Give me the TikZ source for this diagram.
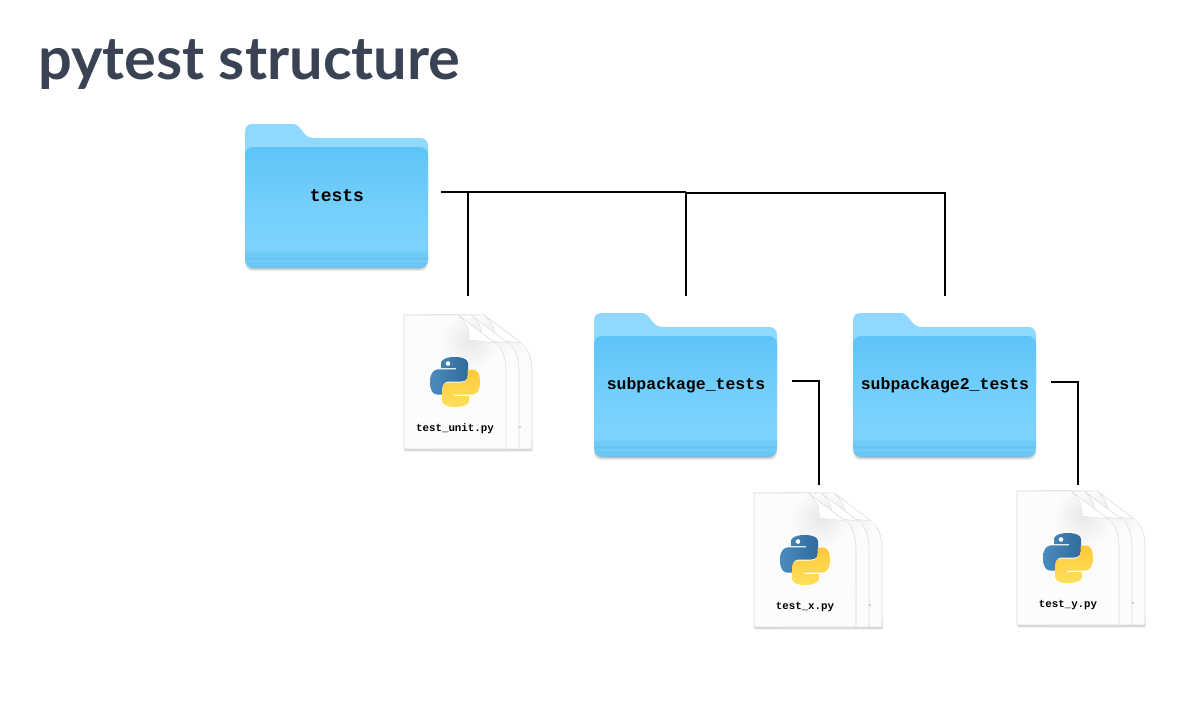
\documentclass[tikz,border=0pt]{standalone}
\usepackage{fontspec}
\usepackage{xcolor}
\usepackage{tikz}
\usetikzlibrary{positioning}
\setmainfont{Lato}
\newfontfamily\codefont{Liberation Mono}
\definecolor{titleink}{HTML}{3A4354}
\definecolor{folderback}{HTML}{8FD8FF}
\definecolor{pageedge}{HTML}{DCDCDC}
\definecolor{pagefold}{HTML}{E9E9E9}
\definecolor{pageface}{HTML}{FCFCFC}
\definecolor{pyblueA}{HTML}{4A8CC0}
\definecolor{pyblueB}{HTML}{2F6A9B}
\definecolor{pyyellowA}{HTML}{FFE05C}
\definecolor{pyyellowB}{HTML}{FFC83A}
\pgfdeclareverticalshading{folderfront}{100bp}{
    color(0bp)=(rgb,255:red,100;green,194;blue,240);
    color(25bp)=(rgb,255:red,100;green,194;blue,240);
    color(26.6bp)=(rgb,255:red,110;green,201;blue,245);
    color(27.0bp)=(rgb,255:red,99;green,192;blue,238);
    color(27.4bp)=(rgb,255:red,112;green,203;blue,246);
    color(28.6bp)=(rgb,255:red,112;green,203;blue,246);
    color(29.1bp)=(rgb,255:red,99;green,192;blue,238);
    color(29.6bp)=(rgb,255:red,111;green,202;blue,246);
    color(31.2bp)=(rgb,255:red,111;green,202;blue,246);
    color(33bp)=(rgb,255:red,125;green,211;blue,254);
    color(50bp)=(rgb,255:red,116;green,207;blue,252);
    color(75bp)=(rgb,255:red,94;green,196;blue,247);
    color(100bp)=(rgb,255:red,94;green,196;blue,247)}

\begin{document}
\begin{tikzpicture}[
        x=1pt, y=-1pt,
        titletext/.style={font=\fontsize{59.5}{62}\selectfont\bfseries, text=titleink, anchor=base west, inner sep=0pt},
        foldertext/.style={font=\codefont\bfseries\fontsize{16.5}{18}\selectfont, inner sep=0pt},
        filetext/.style={font=\codefont\bfseries\fontsize{10.8}{12}\selectfont, inner sep=0pt},
        branch/.style={draw=black, line width=2pt},
        softshadow/.style={fill=black, opacity=0.07, rounded corners=7pt},
        folder/.pic={
            \foreach \s in {0,0.8,1.6,2.4}
                \path[softshadow] (\s,30) rectangle (183-\s,147-\s);
            \fill[folderback] (0,70) -- (0,8) .. controls (0,2) and (3,0) .. (8,0) -- (48,0)
                .. controls (56,0) and (58,14) .. (68,14) -- (175,14)
                .. controls (180,14) and (183,17) .. (183,22) -- (183,70) -- cycle;
            \path[shading=folderfront, rounded corners=8pt] (0,23) rectangle (183,144);
        },
        pypage/.pic={
            \path[fill=pageface, draw=pageedge, line width=0.6pt] (0,0) -- (54,0) -- (91,28)
                .. controls (98,33) and (102,43) .. (102,55) -- (102,134) -- (0,134) -- cycle;
            \begin{scope}
                \clip (0,0) -- (54,0) -- (91,28) .. controls (98,33) and (102,43) .. (102,55)
                    -- (102,134) -- (0,134) -- cycle;
                \path[inner color=pagefold, outer color=pageface] (66,26) circle (30);
            \end{scope}
            \path[fill=white, draw=pageedge, line width=0.4pt] (54,0) .. controls (62,7) and (66,14) .. (65,25)
                .. controls (74,26) and (84,27) .. (91,28) -- cycle;
        },
        pysnake/.pic={
            \fill[white] (18,6.5) circle (2.3);
        },
        pystack/.pic={
            \foreach \s in {0,0.7,1.4}
                \path[softshadow, rounded corners=1pt] (\s,126) rectangle (129-\s,136.5-\s);
            \pic at (26,0) {pypage};
            \pic at (13,0) {pypage};
            \fill[black!70] (116,112) circle (0.6);
            \pic at (0,0) {pypage};
            \begin{scope}[shift={(26,42)}]
                \path[left color=pyblueA, right color=pyblueB] (25,0) .. controls (12,0) and (11,5.5) .. (11,5.5)
                    -- (11,11) -- (26,11) -- (26,12.4) -- (8,12.4)
                    .. controls (8,12.4) and (0,12) .. (0,25) .. controls (0,38) and (7,37.5) .. (7,37.5)
                    -- (12.5,37.5) -- (12.5,31.5) .. controls (12.5,31.5) and (12,24.5) .. (19,24.5)
                    -- (31,24.5) .. controls (31,24.5) and (38,24.6) .. (38,18) -- (38,6.5)
                    .. controls (38,6.5) and (38.5,0) .. (25,0) -- cycle;
                \pic {pysnake};
            \end{scope}
            \begin{scope}[shift={(26,42)}, rotate around={180:(25,25)}]
                \path[top color=pyyellowB, bottom color=pyyellowA] (25,0) .. controls (12,0) and (11,5.5) .. (11,5.5)
                    -- (11,11) -- (26,11) -- (26,12.4) -- (8,12.4)
                    .. controls (8,12.4) and (0,12) .. (0,25) .. controls (0,38) and (7,37.5) .. (7,37.5)
                    -- (12.5,37.5) -- (12.5,31.5) .. controls (12.5,31.5) and (12,24.5) .. (19,24.5)
                    -- (31,24.5) .. controls (31,24.5) and (38,24.6) .. (38,18) -- (38,6.5)
                    .. controls (38,6.5) and (38.5,0) .. (25,0) -- cycle;
                \pic {pysnake};
            \end{scope}
        }
    ]
        \fill[white] (0,0) rectangle (1196,702);
        \useasboundingbox (0,0) rectangle (1196,702);

        \node[titletext] (title) at (38,79) {pytest structure};

        \pic at (245,124) {folder};
        \pic at (594,313) {folder};
        \pic at (853,313) {folder};

        \node[foldertext, font=\codefont\bfseries\fontsize{18}{20}\selectfont] (tests) at (337,196) {tests};
        \node[foldertext] (subpackage) at (686,385) {subpackage\_tests};
        \node[foldertext] (subpackagetwo) at (945,385) {subpackage2\_tests};

        \pic at (404,315) {pystack};
        \pic at (754,493) {pystack};
        \pic at (1017,491) {pystack};

        \node[filetext] (unitfile) at (455,429) {test\_unit.py};
        \node[filetext] (xfile) at (805,607) {test\_x.py};
        \node[filetext] (yfile) at (1068,605) {test\_y.py};

        \coordinate (testsout) at (441,192);
        \coordinate (unitjoin) at (468,192);
        \coordinate (unittop) at (468,296);
        \coordinate (subjoin) at (686,192);
        \coordinate (subtop) at (686,296);
        \coordinate (subtwojoin) at (945,192.6);
        \coordinate (subtwotop) at (945,296);
        \coordinate (subout) at (792,381);
        \coordinate (subelbow) at (819,381);
        \coordinate (xtop) at (819,485);
        \coordinate (subtwoout) at (1051,382);
        \coordinate (subtwoelbow) at (1078,382);
        \coordinate (ytop) at (1078,485);

        \draw[branch] (testsout) -- (subjoin);
        \draw[branch] (subjoin) ++(0,0.6) -- (subtwojoin) -- (subtwotop);
        \draw[branch] (unitjoin) -- (unittop);
        \draw[branch] (subjoin) -- (subtop);
        \draw[branch] (subout) -- (subelbow) -- (xtop);
        \draw[branch] (subtwoout) -- (subtwoelbow) -- (ytop);
    \end{tikzpicture}
\end{document}
